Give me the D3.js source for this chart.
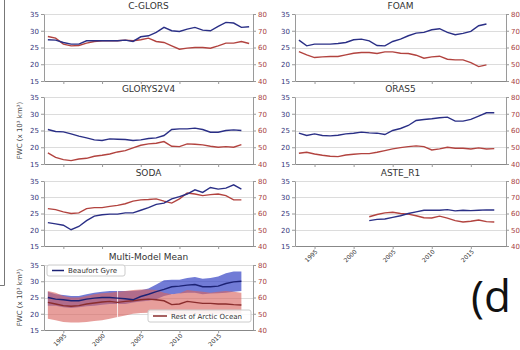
<!DOCTYPE html>
<html>
<head>
<meta charset="utf-8">
<script src="https://cdn.jsdelivr.net/npm/d3@7"></script>
<style>
  body { margin: 0; background: #fff; }
  svg { display: block; font-family: "DejaVu Sans", sans-serif; }
</style>
</head>
<body>
<svg id="chart" width="520" height="350"></svg>
<script>
// Freshwater content: Beaufort Gyre (left axis, x10^3 km^3) and
// Rest of Arctic Ocean (right axis, x10^3 km^3), one panel per reanalysis.

const xTickYears = [1995, 2000, 2005, 2010, 2015];
const leftTicks = [15, 20, 25, 30, 35];
const rightTicks = [40, 50, 60, 70, 80];

// C-GLORS, 1993-2019
const cglorsStart = 1993;
const cglorsBG = [27.3, 27.2, 26.5, 26.0, 26.0, 27.0, 27.0, 27.0, 27.0, 27.0, 27.2, 26.8, 28.2, 28.5, 29.5, 31.0, 30.0, 29.8, 30.5, 31.0, 30.2, 30.0, 31.3, 32.5, 32.3, 31.0, 31.2];
const cglorsRest = [66.6, 65.6, 62.0, 61.0, 61.2, 62.6, 63.6, 64.0, 64.0, 64.0, 64.4, 64.0, 64.6, 65.6, 63.6, 63.0, 61.0, 59.0, 59.6, 60.0, 60.0, 59.6, 61.0, 62.6, 62.6, 63.6, 62.4];

// FOAM, 1993-2017
const foamStart = 1993;
const foamBG = [27.2, 25.5, 26.0, 26.0, 26.0, 26.2, 26.5, 27.3, 27.5, 27.0, 25.6, 25.5, 26.8, 27.5, 28.5, 29.3, 29.5, 30.3, 30.6, 29.5, 28.8, 29.2, 29.8, 31.5, 32.0];
const foamRest = [57.6, 55.6, 54.0, 54.4, 54.6, 54.6, 55.6, 56.6, 57.0, 57.0, 56.4, 57.4, 57.4, 56.6, 56.4, 55.4, 53.6, 54.4, 54.8, 53.0, 52.6, 52.6, 51.0, 48.6, 49.6];

// GLORYS2V4, 1993-2018
const glorysStart = 1993;
const glorysBG = [25.3, 24.7, 24.6, 24.0, 23.3, 22.8, 22.2, 22.0, 22.5, 22.4, 22.3, 22.0, 22.2, 22.6, 22.8, 23.5, 25.3, 25.5, 25.5, 25.7, 25.3, 24.5, 24.5, 25.0, 25.2, 25.0];
const glorysRest = [46.6, 44.0, 42.6, 42.0, 43.0, 43.4, 44.6, 45.2, 46.0, 47.2, 48.0, 49.6, 51.2, 52.0, 52.4, 53.4, 50.6, 50.4, 52.0, 51.8, 51.4, 50.6, 50.0, 50.4, 50.0, 51.6];

// ORAS5, 1993-2018
const orasStart = 1993;
const orasBG = [24.2, 23.5, 24.0, 23.5, 23.4, 23.6, 24.0, 24.2, 24.5, 24.3, 24.2, 23.8, 25.0, 25.6, 26.5, 28.0, 28.3, 28.5, 28.8, 29.0, 27.8, 27.8, 28.3, 29.3, 30.3, 30.3];
const orasRest = [46.4, 47.0, 46.0, 45.2, 44.6, 44.4, 45.4, 45.8, 46.2, 46.2, 47.0, 48.0, 49.0, 49.8, 50.4, 50.8, 50.4, 48.4, 49.0, 50.0, 49.4, 49.4, 49.0, 49.6, 49.0, 49.2];

// SODA, 1993-2018
const sodaStart = 1993;
const sodaBG = [22.2, 21.8, 21.4, 20.0, 21.0, 22.8, 24.2, 24.6, 24.8, 24.8, 25.2, 25.2, 26.0, 26.8, 27.8, 28.2, 29.5, 30.2, 31.0, 32.3, 31.5, 33.0, 32.5, 32.8, 33.8, 32.5];
const sodaRest = [63.0, 62.4, 61.0, 60.0, 60.4, 63.0, 63.6, 63.6, 64.4, 65.0, 66.0, 67.6, 68.4, 68.6, 69.0, 67.6, 66.4, 69.0, 72.6, 72.0, 71.0, 71.6, 72.0, 71.0, 68.4, 68.4];

// ASTE_R1, 2002-2018
const asteStart = 2002;
const asteBG = [22.8, 23.2, 23.3, 23.8, 24.3, 25.0, 25.5, 26.0, 26.0, 26.0, 26.2, 25.8, 26.0, 25.9, 26.0, 26.1, 26.1];
const asteRest = [58.0, 59.4, 60.4, 60.8, 60.0, 59.6, 58.6, 57.4, 57.2, 58.4, 57.2, 55.6, 54.8, 55.2, 56.0, 55.0, 54.8];

// Multi-model mean with spread, 1993-2018
const mmmStart = 1993;
const mmmBG = [25.0, 24.5, 24.3, 24.0, 24.0, 24.5, 24.8, 25.0, 25.0, 24.8, 24.6, 24.3, 25.3, 26.0, 26.8, 27.5, 28.3, 28.5, 28.8, 29.0, 28.3, 28.3, 28.5, 29.3, 29.8, 30.0];
const mmmBGHigh = [26.8, 26.0, 25.8, 25.5, 25.5, 26.0, 26.5, 26.8, 27.0, 27.0, 27.0, 27.0, 27.2, 27.8, 29.0, 30.3, 30.5, 30.5, 31.0, 31.3, 30.8, 31.0, 31.5, 32.5, 33.0, 33.0];
const mmmBGLow = [22.5, 22.5, 22.0, 21.8, 22.0, 22.3, 22.5, 22.8, 23.0, 23.0, 23.0, 23.5, 23.8, 24.0, 24.5, 25.5, 26.0, 26.2, 26.5, 26.5, 26.0, 26.2, 26.3, 26.5, 26.8, 27.0];
const mmmRest = [57.0, 56.0, 55.0, 54.6, 55.0, 56.0, 56.6, 57.2, 57.6, 57.0, 57.6, 58.0, 58.6, 59.0, 58.6, 58.0, 55.6, 56.0, 57.6, 57.0, 56.4, 56.4, 56.0, 56.0, 55.6, 55.4];
const mmmRestHigh = [64.0, 63.0, 61.0, 60.0, 60.0, 61.0, 62.0, 62.6, 63.0, 63.6, 64.0, 64.6, 65.0, 65.0, 64.6, 63.0, 62.0, 62.6, 64.6, 64.0, 63.6, 63.0, 63.6, 64.0, 63.6, 63.0];
const mmmRestLow = [47.0, 46.0, 45.0, 44.6, 44.6, 45.0, 45.6, 46.0, 47.0, 48.0, 49.0, 50.0, 50.4, 50.6, 50.6, 50.4, 49.6, 49.6, 50.0, 50.0, 50.0, 50.0, 50.0, 50.0, 50.0, 50.0];
const mmmSplitYear = 2002;  // ASTE_R1 joins the ensemble from here

const legendLabels = ["Beaufort Gyre", "Rest of Arctic Ocean"];
const yAxisTitle = "FWC (x 10\u00b3 km\u00b3)";

const panels = [
  { title: "C-GLORS",   col: 0, row: 0, start: cglorsStart, bg: cglorsBG, rest: cglorsRest },
  { title: "FOAM",      col: 1, row: 0, start: foamStart,   bg: foamBG,   rest: foamRest },
  { title: "GLORYS2V4", col: 0, row: 1, start: glorysStart, bg: glorysBG, rest: glorysRest, yTitle: true },
  { title: "ORAS5",     col: 1, row: 1, start: orasStart,   bg: orasBG,   rest: orasRest },
  { title: "SODA",      col: 0, row: 2, start: sodaStart,   bg: sodaBG,   rest: sodaRest },
  { title: "ASTE_R1",   col: 1, row: 2, start: asteStart,   bg: asteBG,   rest: asteRest, xLabels: true },
  { title: "Multi-Model Mean", col: 0, row: 3, start: mmmStart, bg: mmmBG, rest: mmmRest,
    bgHigh: mmmBGHigh, bgLow: mmmBGLow, restHigh: mmmRestHigh, restLow: mmmRestLow,
    xLabels: true, yTitle: true, legend: true, mean: true }
];

// Layout
const colX = [[44, 253], [295, 506]];
const rowY = [[14, 81], [97, 164], [181, 246], [265, 330]];

const C = {
  bg: "#2a2f86", rest: "#b2433f",
  bgMean: "#1c2275", restMean: "#8a2d2d",
  bgBand: "#3443c4", restBand: "#d9625d",
  leftTick: "#34347a", rightTick: "#a84040",
  grid: "#dcdcdc", axis: "#9a9a9a", text: "#333"
};

const svg = d3.select("#chart");

// Edge of the neighbouring frame on the left
svg.append("path")
  .attr("d", "M4.5,0 V285.5 H0")
  .attr("fill", "none").attr("stroke", "#777").attr("stroke-width", 1);

panels.forEach(p => {
  const [x0, x1] = colX[p.col];
  const [yT, yB] = rowY[p.row];
  const x = d3.scaleLinear().domain([1992.5, 2019.5]).range([x0, x1]);
  const yL = d3.scaleLinear().domain([15, 35]).range([yB, yT]);
  const yR = d3.scaleLinear().domain([40, 80]).range([yB, yT]);
  const g = svg.append("g");

  // Horizontal gridlines
  g.selectAll("line.grid").data(leftTicks.slice(1)).join("line")
    .attr("x1", x0).attr("x2", x1)
    .attr("y1", d => Math.round(yL(d)) + 0.5).attr("y2", d => Math.round(yL(d)) + 0.5)
    .attr("stroke", C.grid).attr("stroke-width", 1);

  // Spread bands
  if (p.mean) {
    const yrs = p.bg.map((_, i) => p.start + i);
    const areaL = d3.area().x((d, i) => x(yrs[i])).y0(d => yL(d[0])).y1(d => yL(d[1]));
    const areaR = d3.area().x((d, i) => x(yrs[i])).y0(d => yR(d[0])).y1(d => yR(d[1]));
    g.append("path").datum(p.bgLow.map((v, i) => [v, p.bgHigh[i]]))
      .attr("d", areaL).attr("fill", C.bgBand).attr("fill-opacity", 0.7);
    g.append("path").datum(p.restLow.map((v, i) => [v, p.restHigh[i]]))
      .attr("d", areaR).attr("fill", C.restBand).attr("fill-opacity", 0.62);
    const k = mmmSplitYear - p.start;
    const top = Math.min(yL(p.bgHigh[k]), yR(p.restHigh[k]));
    const bot = Math.max(yL(p.bgLow[k]), yR(p.restLow[k]));
    g.append("line").attr("x1", x(mmmSplitYear)).attr("x2", x(mmmSplitYear))
      .attr("y1", top).attr("y2", bot).attr("stroke", "#fff").attr("stroke-width", 0.8);
  }

  // Series lines
  const lineL = d3.line().x((d, i) => x(p.start + i)).y(d => yL(d));
  const lineR = d3.line().x((d, i) => x(p.start + i)).y(d => yR(d));
  g.append("path").datum(p.rest).attr("d", lineR).attr("fill", "none")
    .attr("stroke", p.mean ? C.restMean : C.rest).attr("stroke-width", 1.4);
  g.append("path").datum(p.bg).attr("d", lineL).attr("fill", "none")
    .attr("stroke", p.mean ? C.bgMean : C.bg).attr("stroke-width", 1.4);

  // Axes
  const styleAxis = (sel, color) => {
    sel.select(".domain").attr("stroke", C.axis);
    sel.selectAll(".tick line").attr("stroke", C.axis);
    sel.selectAll(".tick text").attr("fill", color)
      .style("font-family", "DejaVu Sans").style("font-size", "7px");
  };
  const aL = g.append("g").attr("transform", `translate(${x0},0)`)
    .call(d3.axisLeft(yL).tickValues(leftTicks).tickSize(3).tickSizeOuter(0).tickPadding(2));
  styleAxis(aL, C.leftTick);
  const aR = g.append("g").attr("transform", `translate(${x1},0)`)
    .call(d3.axisRight(yR).tickValues(rightTicks).tickSize(3).tickSizeOuter(0).tickPadding(2));
  styleAxis(aR, C.rightTick);
  const aB = g.append("g").attr("transform", `translate(0,${yB})`)
    .call(d3.axisBottom(x).tickValues(xTickYears).tickSize(3).tickSizeOuter(0)
      .tickFormat(p.xLabels ? d3.format("d") : ""));
  styleAxis(aB, C.text);
  aB.select(".domain").attr("stroke", "#888");
  if (p.xLabels) {
    aB.selectAll(".tick text")
      .attr("text-anchor", "end").attr("dy", null).attr("y", null)
      .attr("transform", "translate(3,6) rotate(-45)")
      .style("font-size", "6px");
  }

  // Panel title
  g.append("text").attr("x", (x0 + x1) / 2).attr("y", yT - 5)
    .attr("text-anchor", "middle").attr("fill", C.text)
    .style("font-size", "9px").text(p.title);

  if (p.yTitle) {
    g.append("text")
      .attr("transform", `translate(22,${(yT + yB) / 2}) rotate(-90)`)
      .attr("text-anchor", "middle").attr("fill", "#444")
      .style("font-size", "7px").text(yAxisTitle);
  }

  if (p.legend) {
    const fs = "7px";
    // Beaufort Gyre entry
    const l1 = g.append("g").attr("transform", `translate(${x0 + 3},${yT})`);
    l1.append("rect").attr("width", 78).attr("height", 11).attr("rx", 2)
      .attr("fill", "#fff").attr("fill-opacity", 0.85).attr("stroke", "#ccc");
    l1.append("line").attr("x1", 5).attr("x2", 17).attr("y1", 5.5).attr("y2", 5.5)
      .attr("stroke", C.bgMean).attr("stroke-width", 1.5);
    l1.append("text").attr("x", 21).attr("y", 8).attr("fill", C.text)
      .style("font-size", fs).text(legendLabels[0]);
    // Rest of Arctic Ocean entry
    const l2 = g.append("g").attr("transform", `translate(${x1 - 105},${yB - 20})`);
    l2.append("rect").attr("width", 103).attr("height", 12).attr("rx", 2)
      .attr("fill", "#fff").attr("fill-opacity", 0.85).attr("stroke", "#ccc");
    l2.append("line").attr("x1", 5).attr("x2", 19).attr("y1", 6).attr("y2", 6)
      .attr("stroke", C.restMean).attr("stroke-width", 1.5);
    l2.append("text").attr("x", 23).attr("y", 8.5).attr("fill", C.text)
      .style("font-size", fs).text(legendLabels[1]);
  }
});

// Panel letter
svg.append("text").attr("x", 471).attr("y", 312)
  .attr("fill", "#111").style("font-family", "'Open Sans', sans-serif")
  .style("font-size", "44px").text("(d");
</script>
</body>
</html>
